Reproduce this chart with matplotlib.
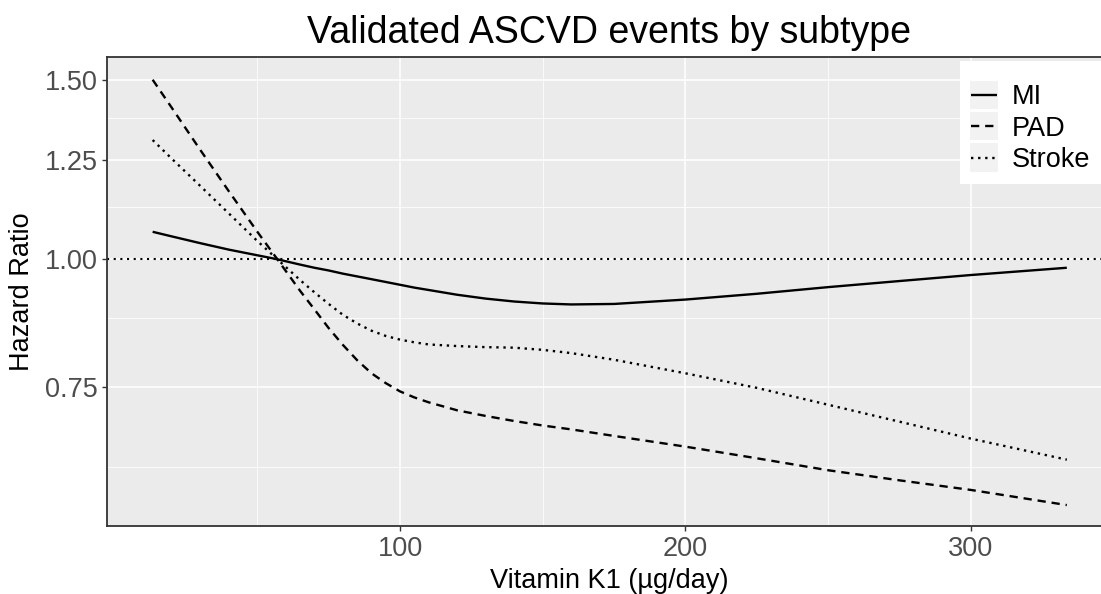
#!/usr/bin/env python3
"""
Validated ASCVD events by subtype: hazard ratio curves vs vitamin K1 intake.
"""

import matplotlib
matplotlib.use('Agg')
import matplotlib.pyplot as plt
from matplotlib.legend_handler import HandlerLine2D
from matplotlib.patches import Rectangle
from matplotlib.ticker import FixedLocator, NullFormatter

plt.rcParams['font.family'] = ['Liberation Sans', 'DejaVu Sans']

# Vitamin K1 intake (ug/day) where the curves were read
vitk1 = [13.3, 20, 30, 40, 50, 57, 65, 70, 75, 80, 85, 90, 95, 100, 105, 110,
         120, 130, 140, 150, 160, 175, 200, 225, 250, 275, 300, 333.7]

# Hazard ratios per subtype
hr_mi = [1.064, 1.053, 1.037, 1.022, 1.009, 1.000, 0.988, 0.981, 0.975, 0.968,
         0.962, 0.956, 0.950, 0.944, 0.938, 0.933, 0.923, 0.915, 0.909, 0.905,
         0.903, 0.904, 0.913, 0.925, 0.939, 0.952, 0.965, 0.981]
hr_pad = [1.500, 1.408, 1.280, 1.166, 1.064, 1.000, 0.931, 0.893, 0.856, 0.824,
          0.796, 0.773, 0.756, 0.742, 0.732, 0.724, 0.711, 0.702, 0.694, 0.687,
          0.681, 0.671, 0.655, 0.638, 0.621, 0.607, 0.594, 0.574]
hr_stroke = [1.309, 1.255, 1.180, 1.109, 1.042, 1.000, 0.954, 0.928, 0.904, 0.882,
             0.865, 0.851, 0.841, 0.834, 0.829, 0.825, 0.822, 0.820, 0.819, 0.815,
             0.809, 0.797, 0.773, 0.748, 0.720, 0.693, 0.667, 0.636]

y_ticks = [0.75, 1.00, 1.25, 1.50]
y_minor = [0.625, 0.875, 1.125, 1.375]
x_ticks = [100, 200, 300]
x_minor = [50, 150, 250]

LW = 1.7
STYLES = {
    'MI': dict(linestyle='-'),
    'PAD': dict(linestyle=(0, (3.5, 2.5))),
    'Stroke': dict(linestyle=(0, (1, 2))),
}


class KeyHandler(HandlerLine2D):
    """Legend key with a light grey square behind the line (ggplot style)."""
    def create_artists(self, legend, orig_handle, xdescent, ydescent,
                       width, height, fontsize, trans):
        artists = super().create_artists(legend, orig_handle, xdescent, ydescent,
                                         width, height, fontsize, trans)
        side = width * 1.1
        cy = height / 2 - ydescent
        rect = Rectangle((-xdescent - (side - width) / 2, cy - side / 2), side, side,
                         facecolor='#F2F2F2', edgecolor='none', transform=trans)
        return [rect] + artists


fig = plt.figure(figsize=(11.01, 5.94), dpi=100)
ax = fig.add_axes([107 / 1101, 1 - 526 / 594, (1111.6 - 107) / 1101, (526 - 57) / 594])
ax.set_facecolor('#EBEBEB')

ax.set_yscale('log')
ax.set_xlim(-2.7, 349.4)
ax.set_ylim(0.5475, 1.579)

# grid
ax.yaxis.set_major_locator(FixedLocator(y_ticks))
ax.yaxis.set_minor_locator(FixedLocator(y_minor))
ax.yaxis.set_minor_formatter(NullFormatter())
ax.set_yticklabels([f'{v:.2f}' for v in y_ticks])
ax.xaxis.set_major_locator(FixedLocator(x_ticks))
ax.xaxis.set_minor_locator(FixedLocator(x_minor))
ax.grid(True, which='major', color='white', linewidth=1.1)
ax.grid(True, which='minor', color='white', linewidth=0.55)
ax.set_axisbelow(True)

# reference line
ax.axhline(1.0, color='black', linewidth=1.5, linestyle=(0, (1, 2.2)), zorder=2)

for name, vals in [('MI', hr_mi), ('PAD', hr_pad), ('Stroke', hr_stroke)]:
    ax.plot(vitk1, vals, color='black', linewidth=LW, label=name,
            solid_capstyle='butt', dash_capstyle='butt', zorder=3, **STYLES[name])

for side in ['top', 'bottom', 'left', 'right']:
    ax.spines[side].set_color('#333333')
    ax.spines[side].set_linewidth(1.3)

ax.tick_params(axis='both', which='major', length=3.5, width=1.0, color='#333333',
               labelcolor='#4D4D4D', labelsize=19.5)
ax.tick_params(axis='x', which='major', pad=4)
ax.tick_params(axis='y', which='major', pad=3)
ax.tick_params(which='minor', length=0)

ax.set_xlabel('Vitamin K1 (\u00b5g/day)', fontsize=19.5, labelpad=4)
ax.set_ylabel('Hazard Ratio', fontsize=19.5, labelpad=7)
ax.set_title('Validated ASCVD events by subtype', fontsize=27, pad=10)

handles, labels = ax.get_legend_handles_labels()
leg = ax.legend(handles, labels, loc='upper right', bbox_to_anchor=(1.0, 1 - 61 / 594),
                bbox_transform=fig.transFigure, borderaxespad=0, fontsize=19.5,
                title=' ', title_fontsize=6,
                frameon=True, fancybox=False, framealpha=1, facecolor='white',
                edgecolor='none', handlelength=0.95, handletextpad=0.55,
                labelspacing=0.2, borderpad=0.4,
                handler_map={h: KeyHandler() for h in handles})

fig.savefig('out.png', dpi=100)
